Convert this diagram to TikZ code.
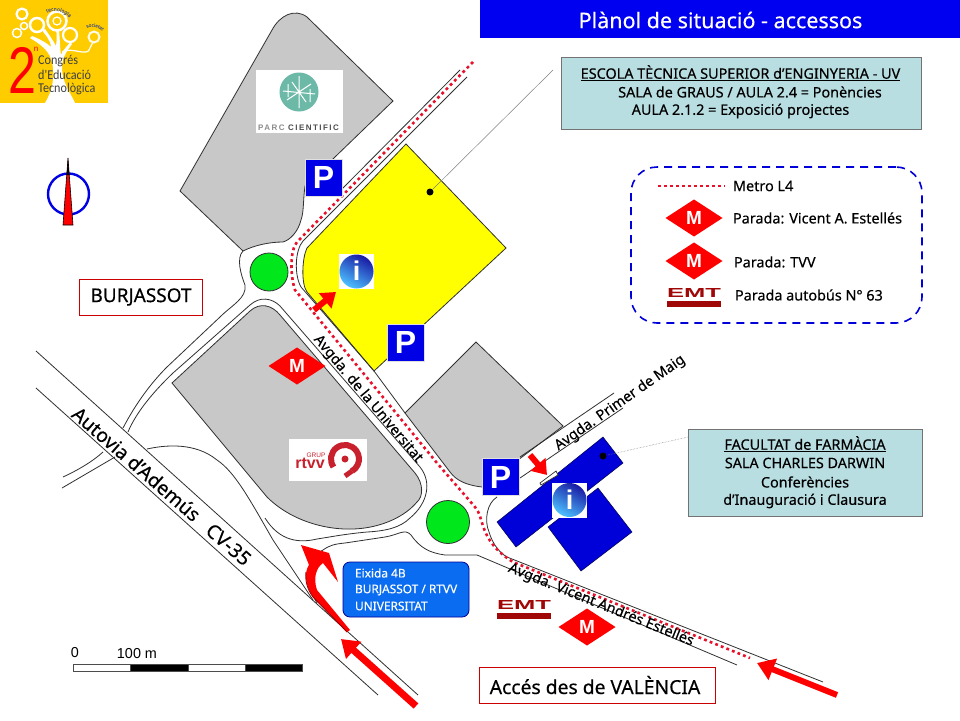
\documentclass[tikz,border=0pt]{standalone}
\usepackage{fontspec}
\setmainfont[FakeBold=0.3]{Noto Sans}
\newfontfamily\liberationsans{Liberation Sans}
\newfontfamily\carlito{Carlito}
\newfontfamily\parcfont[LetterSpace=18]{Liberation Sans}
\usetikzlibrary{arrows.meta,shapes.geometric,decorations.text}

\definecolor{logoyellow}{HTML}{FFCC00}
\definecolor{blockgray}{HTML}{C8C8C8}
\definecolor{buildyellow}{HTML}{FFFF00}
\definecolor{signblue}{HTML}{0000E6}
\definecolor{buildblue}{HTML}{0000D8}
\definecolor{titleblue}{HTML}{0000F0}
\definecolor{boxteal}{HTML}{B8DEE2}
\definecolor{exitblue}{HTML}{0A6CF0}
\definecolor{roundgreen}{HTML}{00E81C}
\definecolor{metrored}{HTML}{E8102A}
\definecolor{emtred}{HTML}{A00808}
\definecolor{rtvvred}{HTML}{C8202C}
\definecolor{parcteal}{HTML}{6DB9A8}
\definecolor{penline}{HTML}{303030}

\tikzset{
  road/.style={draw=penline,line width=.8pt},
  block/.style={draw=penline,line width=.8pt,fill=blockgray},
  metroline/.style={draw=metrored,line width=2.6pt,dash pattern=on 2.8pt off 3.2pt},
  psign/.style={draw=black!12,fill=signblue,text=white,line width=1pt,minimum size=37pt,inner sep=0pt,outer sep=0pt,font=\liberationsans\bfseries\fontsize{32}{32}\selectfont},
  msign/.style={diamond,aspect=1.55,fill=red,text=white,inner sep=0pt,outer sep=0pt,minimum width=57pt,minimum height=37pt,font=\liberationsans\bfseries\fontsize{19}{19}\selectfont},
  roundabout/.style={circle,draw=penline,line width=.8pt,fill=roundgreen,inner sep=0pt},
  infobox/.style={draw=black!55,line width=.8pt,fill=boxteal,inner sep=0pt,outer sep=0pt},
  redbox/.style={draw=red!80!black,line width=.8pt,fill=white,inner sep=0pt,outer sep=0pt},
  txt/.style={inner sep=0pt,outer sep=0pt,font=\fontsize{14.4}{16}\selectfont},
  roadtxt/.style={inner sep=0pt,outer sep=0pt,font=\fontsize{14.4}{16}\selectfont},
  exittxt/.style={inner sep=0pt,outer sep=0pt,anchor=west,text=white,font=\fontsize{11.9}{13}\selectfont},
  logotxt/.style={anchor=west,inner sep=0pt,text=black!75,font=\carlito\fontsize{13.5}{15}\selectfont},
  dot/.style={circle,fill=black,inner sep=0pt,minimum size=7pt},
  leader/.style={draw=black!50,line width=.5pt},
  bigarrow/.style={draw=red,-{Triangle[length=17pt,width=22pt]}},
  smallarrow/.style={draw=red,line width=6pt,-{Triangle[length=14pt,width=19pt]}},
  infoplate/.style={fill=white,inner sep=0pt,outer sep=0pt,minimum size=35pt},
}

\begin{document}
\begin{tikzpicture}[yscale=-1,x=1pt,y=1pt]
  \useasboundingbox (0,0) rectangle (960,720);
  \fill[white] (0,0) rectangle (960,720);

  % title
  \node (titlebar) [fill=titleblue,minimum width=480pt,minimum height=38pt,inner sep=0pt,outer sep=0pt] at (720,19) {};
  \node (title) [text=white,inner sep=0pt,font=\fontsize{21.5}{24}\selectfont] at (720.5,20) {Plànol de situació - accessos};

  % congress logo
  \fill[logoyellow] (0,0) rectangle (108,103);
  \fill[white] (45,103) .. controls (53,90) and (55,75) .. (52,62) .. controls (50,52) and (42,45) .. (30,38) -- (32,36) .. controls (42,40) and (48,44) .. (51,47) .. controls (50,38) and (44,34) .. (42,30) -- (45,29) .. controls (50,36) and (54,42) .. (56,46) .. controls (57,38) and (57,34) .. (56,30) -- (59,30) .. controls (60,40) and (60,50) .. (61,55) .. controls (64,48) and (68,46) .. (70,42) -- (72,44) .. controls (68,50) and (62,56) .. (62,68) .. controls (62,82) and (70,92) .. (75,103) -- cycle;
  \draw[white,line width=1.2pt] (62,52) .. controls (72,46) and (88,58) .. (90,48) -- (93,42);
  \draw[white,line width=2.2pt] (22,14) circle (5.5);
  \draw[white,line width=2.5pt] (37,25) circle (7);
  \draw[white,line width=2.5pt] (57,21) circle (9.5);
  \draw[white,line width=1.2pt] (57,21) circle (4);
  \draw[white,line width=2.2pt] (70,35) circle (7);
  \draw[white,line width=1.5pt] (24,26) circle (3.5);
  \draw[white,line width=1.5pt] (17,33) circle (4.5);
  \draw[white!90!logoyellow,line width=2pt] (94,37) circle (5.5);
  \path[decorate,decoration={text along path,text={|\fontsize{5}{5}\selectfont\color{black!60}|tecnologia},text align=center}] (42,17) .. controls (48,8) and (66,8) .. (73,23);
  \path[decorate,decoration={text along path,text={|\fontsize{4.5}{5}\selectfont\color{black!60}|societat},text align=center}] (83,33) .. controls (86,24) and (100,24) .. (106,36);
  \node (logotwo) [text=red,inner sep=0pt,font=\liberationsans\fontsize{66}{66}\selectfont] at (22,70) {\scalebox{.76}[1]{2}};
  \node (logon) [text=red,inner sep=0pt,font=\liberationsans\fontsize{8}{8}\selectfont] at (36,49) {n};
  \node (logoa) [logotxt] at (38,61) {\scalebox{.9}[1]{Congrés}};
  \node (logob) [logotxt] at (38,75) {\scalebox{.9}[1]{d'Educació}};
  \node (logoc) [logotxt] at (38,89) {\scalebox{.9}[1]{Tecnològica}};

  % compass
  \draw[blue!90!black,line width=2.4pt] (68.5,194) circle (20.5);
  \filldraw[fill=red,draw=black,line width=.6pt] (68,158) -- (73,225) -- (63,225) -- cycle;
  \fill[black] (68,158) -- (69.2,175) -- (66.8,175) -- cycle;

  % grey blocks
  \path[block] (180,191) -- (272,30) .. controls (280,15) and (295,8) .. (307,17) -- (393,101) -- (335,157) -- (305,186) .. controls (303,200) and (304,212) .. (301,220) .. controls (298,232) and (290,240) .. (283,242) .. controls (270,242) and (255,245) .. (243,251) -- cycle;
  \path[block] (172,383) -- (250,311) .. controls (260,302) and (272,305) .. (280,315) -- (415,473) .. controls (424,484) and (423,497) .. (417,502) .. controls (402,520) and (370,533) .. (333,528) .. controls (310,525) and (285,515) .. (267,497) -- cycle;
  \path[block] (476,342) -- (563,426) -- (522,457) -- (482,487) .. controls (465,485) and (456,480) .. (450,472) -- (405,413) -- cycle;

  % roads
  \draw[road] (243,251) .. controls (236,258) and (241,275) .. (245,285) .. controls (247,298) and (232,305) .. (220,317) -- (167,367) .. controls (150,384) and (135,405) .. (123,428);
  \draw[road] (128,432) .. controls (135,415) and (150,395) .. (173,373) -- (250,305) .. controls (260,296) and (272,298) .. (280,306) -- (420,467) .. controls (432,482) and (428,503) .. (410,518) .. controls (400,528) and (385,531) .. (367,532) .. controls (345,534) and (330,537) .. (317,539) .. controls (300,543) and (280,542) .. (265,518);
  \draw[road] (147,449) .. controls (165,445) and (195,442) .. (217,460) .. controls (235,472) and (250,500) .. (273,540) -- (313,600);
  \draw[road] (317,603) .. controls (303,580) and (305,560) .. (323,550) .. controls (330,545) and (335,544) .. (345,543) -- (385,537) .. controls (398,535) and (405,528) .. (411,535) .. controls (420,548) and (430,553) .. (445,555) -- (477,555) -- (737,665);
  \draw[road] (63,477) .. controls (78,470) and (92,462) .. (103,452);
  \draw[road] (62,488) -- (115,457);
  \draw[road] (36,351) -- (418,695);
  \draw[road] (36,388) -- (378,695);
  \draw[road] (460,70) -- (342,189);
  \draw[road] (497,497) .. controls (487,503) and (484,520) .. (489,532) .. controls (493,545) and (500,553) .. (507,557) -- (823,682);
  \draw[road] (520,457) -- (614,393);
  \draw[road] (520,478) -- (623,408);

  % yellow school
  \filldraw[fill=buildyellow,draw=penline,line width=.8pt] (406,144) -- (506,248) -- (374,371) -- (307,292) .. controls (301,284) and (302,258) .. (307,248) -- cycle;
  \draw[road] (467,77) -- (303,241) .. controls (295,250) and (294,275) .. (301,287) -- (374,371) -- (405,413);

  % pharmacy
  \filldraw[fill=buildblue,draw=black!70!blue,line width=.5pt] (497,522) -- (603,437) -- (623,463) -- (516,547) -- cycle;
  \filldraw[fill=buildblue,draw=black!70!blue,line width=.5pt] (548,527) -- (598,488) -- (632,532) -- (581,571) -- cycle;
  \filldraw[fill=white,draw=penline,line width=.7pt] (540,483) -- (556,471) -- (558,475) -- (541,485) -- cycle;

  % metro line
  \draw[metroline] (473,62) -- (297,242) .. controls (290,250) and (290,275) .. (295,290) -- (437,463) -- (475,507) .. controls (485,518) and (478,540) .. (513,562) -- (750,658);

  % roundabouts
  \node (roundnorth) [roundabout,minimum size=38pt] at (269,272) {};
  \node (roundsouth) [roundabout,minimum size=43pt] at (448,522) {};

  % parc cientific logo
  \fill[white] (256,70) rectangle (343,133);
  \fill[parcteal] (299,92) circle (19.5);
  \draw[white,line width=1pt] (287,100) -- (311,84) (292,82) -- (306,102) (283,91) -- (315,94) (299,76) -- (299,108) (288,84) -- (288,97) (310,89) -- (310,102);
  \node (parclabel) [inner sep=0pt,text=black!70,font=\parcfont\bfseries\fontsize{8}{9}\selectfont] at (298.5,127.5) {\textcolor{black!45}{PARC} CIENTIFIC};

  % rtvv logo
  \fill[white] (289,439) rectangle (367,481);
  \draw[rtvvred,line width=6pt] (333.5,467) arc (145:420:14);
  \draw[rtvvred,line width=5pt] (352,471) -- (345,476);
  \fill[rtvvred] (345,459) circle (3.5);
  \node (rtvvword) [inner sep=0pt,text=rtvvred,font=\liberationsans\bfseries\fontsize{16}{16}\selectfont] at (310,463) {rtvv};
  \node (rtvvgrup) [inner sep=0pt,text=rtvvred,font=\liberationsans\fontsize{6.5}{7}\selectfont] at (316,455.5) {GRUP};

  % parking
  \node (parkschool) [psign] at (323.5,177.5) {P};
  \node (parksouth) [psign] at (405.5,342.5) {P};
  \node (parkpharm) [psign] at (500.5,477) {P};

  % metro stops
  \node (metrotvv) [msign] at (297,366) {M};
  \node (metrovicent) [msign] at (587,627) {M};

  % bus stop
  \node (emtmap) [inner sep=0pt,text=emtred,font=\liberationsans\bfseries] at (524,604.5) {\resizebox{54pt}{9pt}{EMT}};
  \fill[emtred] (497,613) rectangle (551,619);

  % info signs
  \node (infoschool) [infoplate] at (356.5,271.5) {};
  \shade[top color=blue!60!black!90,bottom color=blue!35!cyan!70,shading angle=-30] (356.5,271.5) circle (17);
  \node (infoschooli) [inner sep=0pt,text=white,font=\liberationsans\bfseries\fontsize{27}{27}\selectfont] at (356.5,271) {i};
  \node (infopharm) [infoplate] at (569.5,500) {};
  \shade[top color=blue!60!black!90,bottom color=blue!35!cyan!70,shading angle=-30] (569.5,500) circle (17);
  \node (infopharmi) [inner sep=0pt,text=white,font=\liberationsans\bfseries\fontsize{27}{27}\selectfont] at (569.5,499.5) {i};

  % arrows
  \coordinate (arrowhwya) at (416,706);
  \coordinate (arrowhwyb) at (341,639);
  \draw[bigarrow,line width=7pt] (arrowhwya) -- (arrowhwyb);
  \coordinate (arrowvala) at (837,695);
  \coordinate (arrowvalb) at (757,663);
  \draw[bigarrow,line width=6pt] (arrowvala) -- (arrowvalb);
  \coordinate (arrowinfoa) at (314,310);
  \coordinate (arrowinfob) at (336,292);
  \draw[smallarrow] (arrowinfoa) -- (arrowinfob);
  \coordinate (arrowdoora) at (530,455);
  \coordinate (arrowdoorb) at (547,475);
  \draw[smallarrow] (arrowdoora) -- (arrowdoorb);
  \fill[red] (301,545) -- (329,553) -- (338,582) -- (323,563) .. controls (316,568) and (313,578) .. (317,590) -- (350,630) -- (347,632) -- (313,597) .. controls (305,585) and (304,572) .. (309,565) -- cycle;
  \draw[red!60!black,line width=.9pt] (347,632) -- (313,597) .. controls (307,589) and (305,580) .. (306,572);

  % place names
  \node (burjassotbox) [redbox,minimum width=123pt,minimum height=36pt] at (140.5,297) {};
  \node (burjassot) [inner sep=0pt,font=\fontsize{19}{21}\selectfont] at (141,297) {BURJASSOT};
  \node (valenciabox) [redbox,minimum width=236pt,minimum height=36pt] at (597,685) {};
  \node (valencia) [inner sep=0pt,font=\fontsize{19.3}{22}\selectfont] at (595,685) {Accés des de VALÈNCIA};

  % road names
  \node (uniroad) [roadtxt,rotate=-50] at (368,399) {Avgda. de la Universitat};
  \node (maigroad) [roadtxt,rotate=35] at (620,403) {Avgda. Primer de Maig};
  \node (vicentroad) [roadtxt,rotate=-22] at (601,605) {Avgda. Vicent Andrés Estellés};
  \node (ademusroad) [inner sep=0pt,font=\fontsize{19.4}{22}\selectfont,rotate=-41] at (162,486) {Autovia d'Ademús\ \ \ CV-35};

  % exit label
  \node (exitbox) [draw=black!40!blue,line width=.8pt,fill=exitblue,rounded corners=7pt,minimum width=126pt,minimum height=55pt,inner sep=0pt,outer sep=0pt] at (406,589.5) {};
  \node (exita) [exittxt] at (355,573) {Eixida 4B};
  \node (exitb) [exittxt] at (355,590) {BURJASSOT / RTVV};
  \node (exitc) [exittxt] at (355,606) {UNIVERSITAT};

  % school box
  \node (schoolbox) [infobox,minimum width=360pt,minimum height=72pt] at (741,93) {};
  \node (schoola) [txt] at (740.5,73) {\underline{ESCOLA TÈCNICA SUPERIOR d'ENGINYERIA - UV}};
  \node (schoolb) [txt] at (750,92) {SALA de GRAUS / AULA 2.4 = Ponències};
  \node (schoolc) [txt] at (740.5,111) {AULA 2.1.2 = Exposició projectes};
  \node (schooldot) [dot] at (430,192) {};
  \coordinate (schoollead) at (553,70);
  \draw[leader] (schooldot) -- (schoollead);

  % pharmacy box
  \node (pharmbox) [infobox,minimum width=234pt,minimum height=87pt] at (805,472.5) {};
  \node (pharma) [txt] at (805,444) {\underline{FACULTAT de FARMÀCIA}};
  \node (pharmb) [txt] at (805,463) {SALA CHARLES DARWIN};
  \node (pharmc) [txt] at (805,482) {Conferències};
  \node (pharmd) [txt] at (805,501) {d'Inauguració i Clausura};
  \node (pharmdot) [dot] at (603,456) {};
  \coordinate (pharmlead) at (688,437);
  \draw[leader,densely dotted] (pharmdot) -- (pharmlead);

  % legend
  \node (legendbox) [draw=blue!85!black,line width=1.6pt,dash pattern=on 8pt off 6pt,rounded corners=26pt,minimum width=291pt,minimum height=156pt,inner sep=0pt,outer sep=0pt] at (776.5,245) {};
  \coordinate (legendlinea) at (658,186);
  \coordinate (legendlineb) at (725,186);
  \draw[metroline] (legendlinea) -- (legendlineb);
  \node (legendmetro) [txt,anchor=west] at (733,186) {Metro L4};
  \node (legendma) [msign] at (694,218) {M};
  \node (legendvicent) [txt,anchor=west] at (733,218) {Parada: Vicent A. Estellés};
  \node (legendmb) [msign] at (694,261) {M};
  \node (legendtvv) [txt,anchor=west] at (734,262) {Parada: TVV};
  \node (legendemt) [inner sep=0pt,text=emtred,font=\liberationsans\bfseries] at (694,292.5) {\resizebox{54pt}{9pt}{EMT}};
  \fill[emtred] (667,301) rectangle (721,307);
  \node (legendbus) [txt,anchor=west] at (735,295) {Parada autobús N° 63};

  % scale bar
  \filldraw[fill=white,draw=black!70,line width=.8pt] (73,664) rectangle (130,671);
  \filldraw[fill=black,draw=black!70,line width=.8pt] (130,664) rectangle (188,671);
  \filldraw[fill=white,draw=black!70,line width=.8pt] (188,664) rectangle (245,671);
  \filldraw[fill=black,draw=black!70,line width=.8pt] (245,664) rectangle (302,671);
  \node (scalezero) [inner sep=0pt,font=\liberationsans\fontsize{14.4}{16}\selectfont] at (75,653) {0};
  \node (scalehundred) [inner sep=0pt,font=\liberationsans\fontsize{14.4}{16}\selectfont] at (137,654) {100 m};
\end{tikzpicture}
\end{document}
